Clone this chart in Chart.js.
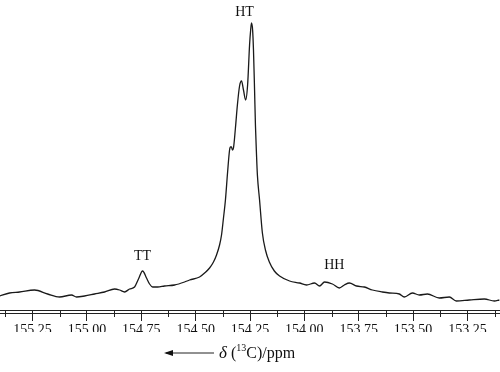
<!DOCTYPE html>
<html>
<head>
<meta charset="utf-8">
<script src="https://cdn.jsdelivr.net/npm/chart.js@4"></script>
<style>
  html, body { margin: 0; padding: 0; background: #fff; }
  canvas { display: block; }
</style>
</head>
<body>
<canvas id="nmr" width="500" height="372"></canvas>
<script>
// 13C spectrum, chemical shift (ppm) and intensity (arbitrary units)
const shiftPpm = [
  155.402, 155.356, 155.310, 155.241, 155.181, 155.126, 155.071, 155.048, 155.011, 154.965,
  154.919, 154.873, 154.850, 154.827, 154.804, 154.781, 154.763, 154.744, 154.726, 154.712,
  154.698, 154.675, 154.643, 154.597, 154.551, 154.528, 154.482, 154.459, 154.436, 154.418,
  154.404, 154.390, 154.381, 154.372, 154.363, 154.353, 154.344, 154.340, 154.335, 154.331,
  154.326, 154.317, 154.308, 154.298, 154.289, 154.280, 154.270, 154.261, 154.252, 154.247,
  154.243, 154.238, 154.234, 154.229, 154.225, 154.220, 154.216, 154.206, 154.193, 154.179,
  154.161, 154.138, 154.114, 154.068, 154.022, 153.990, 153.953, 153.930, 153.907, 153.871,
  153.839, 153.816, 153.793, 153.760, 153.724, 153.687, 153.641, 153.609, 153.563, 153.540,
  153.503, 153.471, 153.434, 153.379, 153.333, 153.301, 153.241, 153.172, 153.126, 153.103
];
const intensity = [
  14, 17, 18, 20, 16, 13, 15, 13, 14, 16,
  18, 21, 20, 18, 21, 23, 31, 39, 32, 26,
  23, 23, 24, 25, 28, 30, 33, 37, 42, 48,
  55, 65, 75, 92, 110, 138, 160, 163, 163, 160,
  162, 182, 205, 224, 229, 220, 210, 225, 265, 280,
  287, 280, 260, 220, 185, 155, 135, 110, 77, 60,
  48, 39, 34, 29, 27, 25, 27, 24, 28, 26,
  22, 25, 27, 24, 23, 20, 18, 17, 16, 13,
  17, 15, 16, 12, 13, 9, 10, 11, 9, 10
];

// peak assignments
const peakNames = ['TT', 'HT', 'HH'];
const peakPpm = [154.744, 154.275, 153.862];
const peakLabelLevel = [54, 298, 45];

const serif = '"Liberation Serif", "DejaVu Serif", serif';

function isMajor(v) {
  return Math.abs(v * 4 - Math.round(v * 4)) < 1e-6;
}

// second axis line, short minor ticks, peak labels and the axis caption
const decorations = {
  id: 'decorations',
  afterDraw(chart) {
    const { ctx, chartArea, scales } = chart;
    const x = scales.x, y = scales.y;
    ctx.save();
    ctx.strokeStyle = '#222';
    ctx.lineWidth = 1;
    ctx.beginPath();
    ctx.moveTo(0, chartArea.bottom + 3.5);
    ctx.lineTo(chart.width, chartArea.bottom + 3.5);
    ctx.stroke();

    x.ticks.forEach(t => {
      if (isMajor(t.value)) return;
      const px = Math.round(x.getPixelForValue(t.value)) + 0.5;
      ctx.beginPath();
      ctx.moveTo(px, chartArea.bottom);
      ctx.lineTo(px, chartArea.bottom + 7);
      ctx.stroke();
    });

    ctx.fillStyle = '#111';
    ctx.font = '14px ' + serif;
    ctx.textAlign = 'center';
    ctx.textBaseline = 'middle';
    peakNames.forEach((name, i) => {
      ctx.fillText(name, x.getPixelForValue(peakPpm[i]), y.getPixelForValue(peakLabelLevel[i]));
    });

    // caption: arrow, italic delta, superscript mass number
    const cy = 353;
    ctx.beginPath();
    ctx.moveTo(166, cy);
    ctx.lineTo(214, cy);
    ctx.stroke();
    ctx.beginPath();
    ctx.moveTo(164, cy);
    ctx.lineTo(173, cy - 3);
    ctx.lineTo(173, cy + 3);
    ctx.closePath();
    ctx.fill();

    ctx.textAlign = 'left';
    ctx.textBaseline = 'alphabetic';
    let cx = 219;
    const base = cy + 5;
    ctx.font = 'italic 17px ' + serif;
    ctx.fillText('δ', cx, base);
    cx += ctx.measureText('δ').width;
    ctx.font = '16px ' + serif;
    ctx.fillText(' (', cx, base);
    cx += ctx.measureText(' (').width;
    ctx.font = '10px ' + serif;
    ctx.fillText('13', cx, base - 7);
    cx += ctx.measureText('13').width;
    ctx.font = '16px ' + serif;
    ctx.fillText('C)/ppm', cx, base);
    ctx.restore();
  }
};

new Chart(document.getElementById('nmr'), {
  type: 'line',
  data: {
    datasets: [{
      data: shiftPpm.map((p, i) => ({ x: p, y: intensity[i] })),
      borderColor: '#1a1a1a',
      borderWidth: 1.3,
      pointRadius: 0,
      cubicInterpolationMode: 'monotone',
      fill: false
    }]
  },
  options: {
    responsive: false,
    animation: false,
    layout: { padding: { top: 10, bottom: 40, left: 0, right: 0 } },
    plugins: { legend: { display: false }, tooltip: { enabled: false } },
    scales: {
      x: {
        type: 'linear',
        reverse: true,
        min: 153.10,
        max: 155.40,
        afterFit(scale) { scale.height = 22; },
        border: { display: true, color: '#222', width: 1 },
        grid: {
          drawOnChartArea: false,
          tickLength: 11,
          tickColor: c => (c.tick && isMajor(c.tick.value)) ? '#222' : 'rgba(0,0,0,0)'
        },
        ticks: {
          stepSize: 0.125,
          includeBounds: false,
          maxRotation: 0,
          autoSkip: false,
          padding: 1,
          color: '#111',
          font: { family: serif, size: 14 },
          callback: v => isMajor(v) ? v.toFixed(2) : ''
        }
      },
      y: {
        display: false,
        min: 0,
        max: 300
      }
    }
  },
  plugins: [decorations]
});
</script>
</body>
</html>
